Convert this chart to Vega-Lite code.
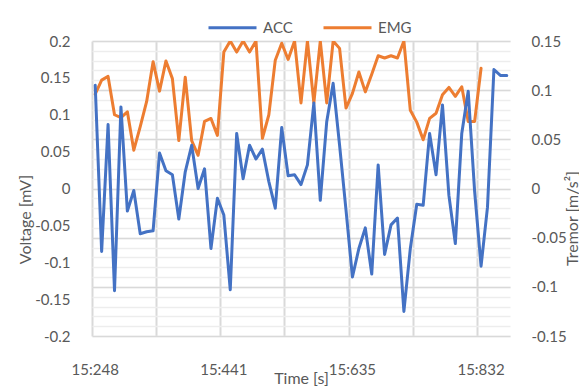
{
  "$schema": "https://vega.github.io/schema/vega-lite/v6.json",
  "width": 418,
  "height": 295,
  "autosize": {"type": "none"},
  "padding": {"left": 92, "top": 41, "right": 69, "bottom": 53},
  "background": "white",
  "config": {
    "view": {"stroke": null},
    "font": "Lato",
    "axis": {"labelColor": "#595959", "titleColor": "#595959", "labelFont": "Lato", "titleFont": "Lato", "labelFontSize": 15, "titleFontSize": 16, "titleFontWeight": "normal"},
    "legend": {"labelFont": "Lato", "labelFontSize": 15, "labelColor": "#595959", "padding": 0}
  },
  "data": {
    "values": [
      {"t": "15:248", "ACC": 0.105, "EMG": 0.128},
      {"t": "15:258", "ACC": -0.064, "EMG": 0.147},
      {"t": "15:267", "ACC": 0.065, "EMG": 0.152},
      {"t": "15:277", "ACC": -0.104, "EMG": 0.100},
      {"t": "15:287", "ACC": 0.083, "EMG": 0.096},
      {"t": "15:296", "ACC": -0.023, "EMG": 0.104},
      {"t": "15:306", "ACC": -0.002, "EMG": 0.052},
      {"t": "15:316", "ACC": -0.046, "EMG": 0.084},
      {"t": "15:325", "ACC": -0.044, "EMG": 0.118},
      {"t": "15:335", "ACC": -0.043, "EMG": 0.172},
      {"t": "15:345", "ACC": 0.036, "EMG": 0.132},
      {"t": "15:354", "ACC": 0.018, "EMG": 0.173},
      {"t": "15:364", "ACC": 0.014, "EMG": 0.149},
      {"t": "15:373", "ACC": -0.031, "EMG": 0.065},
      {"t": "15:383", "ACC": 0.017, "EMG": 0.151},
      {"t": "15:393", "ACC": 0.044, "EMG": 0.065},
      {"t": "15:402", "ACC": 0.000, "EMG": 0.045},
      {"t": "15:412", "ACC": 0.020, "EMG": 0.091},
      {"t": "15:422", "ACC": -0.061, "EMG": 0.095},
      {"t": "15:431", "ACC": -0.010, "EMG": 0.072},
      {"t": "15:441", "ACC": -0.027, "EMG": 0.185},
      {"t": "15:451", "ACC": -0.103, "EMG": 0.2},
      {"t": "15:460", "ACC": 0.056, "EMG": 0.185},
      {"t": "15:470", "ACC": 0.010, "EMG": 0.2},
      {"t": "15:480", "ACC": 0.044, "EMG": 0.185},
      {"t": "15:490", "ACC": 0.030, "EMG": 0.2},
      {"t": "15:499", "ACC": 0.040, "EMG": 0.068},
      {"t": "15:509", "ACC": 0.007, "EMG": 0.100},
      {"t": "15:519", "ACC": -0.020, "EMG": 0.174},
      {"t": "15:528", "ACC": 0.062, "EMG": 0.197},
      {"t": "15:538", "ACC": 0.013, "EMG": 0.175},
      {"t": "15:548", "ACC": 0.014, "EMG": 0.2},
      {"t": "15:557", "ACC": 0.004, "EMG": 0.116},
      {"t": "15:567", "ACC": 0.024, "EMG": 0.2},
      {"t": "15:577", "ACC": 0.087, "EMG": 0.116},
      {"t": "15:587", "ACC": -0.012, "EMG": 0.2},
      {"t": "15:596", "ACC": 0.068, "EMG": 0.116},
      {"t": "15:606", "ACC": 0.107, "EMG": 0.2},
      {"t": "15:616", "ACC": 0.044, "EMG": 0.190},
      {"t": "15:625", "ACC": -0.022, "EMG": 0.109},
      {"t": "15:635", "ACC": -0.090, "EMG": 0.129},
      {"t": "15:645", "ACC": -0.061, "EMG": 0.158},
      {"t": "15:655", "ACC": -0.040, "EMG": 0.131},
      {"t": "15:665", "ACC": -0.087, "EMG": 0.155},
      {"t": "15:674", "ACC": 0.024, "EMG": 0.180},
      {"t": "15:684", "ACC": -0.067, "EMG": 0.177},
      {"t": "15:694", "ACC": -0.037, "EMG": 0.180},
      {"t": "15:704", "ACC": -0.030, "EMG": 0.177},
      {"t": "15:714", "ACC": -0.125, "EMG": 0.2},
      {"t": "15:724", "ACC": -0.061, "EMG": 0.106},
      {"t": "15:734", "ACC": -0.016, "EMG": 0.090},
      {"t": "15:743", "ACC": -0.017, "EMG": 0.066},
      {"t": "15:753", "ACC": 0.056, "EMG": 0.095},
      {"t": "15:763", "ACC": 0.014, "EMG": 0.102},
      {"t": "15:773", "ACC": 0.085, "EMG": 0.127},
      {"t": "15:783", "ACC": -0.007, "EMG": 0.137},
      {"t": "15:793", "ACC": -0.056, "EMG": 0.125},
      {"t": "15:802", "ACC": 0.056, "EMG": 0.138},
      {"t": "15:812", "ACC": 0.099, "EMG": 0.091},
      {"t": "15:822", "ACC": -0.003, "EMG": 0.091},
      {"t": "15:832", "ACC": -0.079, "EMG": 0.163},
      {"t": "15:842", "ACC": -0.019, "EMG": null},
      {"t": "15:852", "ACC": 0.121, "EMG": null},
      {"t": "15:862", "ACC": 0.115, "EMG": null},
      {"t": "15:871", "ACC": 0.115, "EMG": null}
    ]
  },
  "layer": [
    {
      "mark": {"type": "line", "opacity": 0},
      "encoding": {
        "x": {"field": "t", "type": "ordinal", "sort": null, "bandPosition": 0.5, "scale": {"type": "band", "paddingInner": 0, "paddingOuter": 0}, "axis": null},
        "y": {
          "field": "ACC", "type": "quantitative",
          "scale": {"domain": [-0.15, 0.15], "nice": false, "zero": false},
          "axis": {"orient": "right", "values": [-0.15, -0.14, -0.13, -0.12, -0.11, -0.1, -0.09, -0.08, -0.07, -0.06, -0.05, -0.04, -0.03, -0.02, -0.01, 0, 0.01, 0.02, 0.03, 0.04, 0.05, 0.06, 0.07, 0.08, 0.09, 0.1, 0.11, 0.12, 0.13, 0.14, 0.15], "grid": true, "gridColor": "#EDEDED", "gridWidth": 1.3, "labels": false, "ticks": false, "domain": false, "title": null}
        }
      }
    },
    {
      "mark": {"type": "line", "strokeWidth": 3, "strokeJoin": "round", "strokeCap": "round", "clip": true},
      "encoding": {
        "x": {"field": "t", "type": "ordinal", "sort": null, "bandPosition": 0.5, "scale": {"type": "band", "paddingInner": 0, "paddingOuter": 0},
          "axis": {"orient": "bottom", "values": ["15:248", "15:441", "15:635", "15:832"], "bandPosition": 0.5, "grid": false, "ticks": false, "domain": false, "labelAngle": 0, "labelPadding": 26, "title": "Time [s]", "titleY": 47, "titleBaseline": "alphabetic"}},
        "y": {
          "field": "EMG", "type": "quantitative",
          "scale": {"domain": [-0.2, 0.2], "nice": false, "zero": false},
          "axis": {"orient": "left", "values": [-0.2, -0.15, -0.1, -0.05, 0, 0.05, 0.1, 0.15, 0.2], "labelExpr": "'' + datum.value", "grid": false, "ticks": false, "domain": false, "labelPadding": 22, "title": "Voltage [mV]", "titleAngle": 270, "titleX": -62, "titleY": 178, "titleBaseline": "alphabetic"}
        },
        "color": {"datum": "EMG", "type": "nominal", "scale": {"domain": ["ACC", "EMG"], "range": ["#4472C4", "#ED7D31"]},
          "legend": {"orient": "none", "legendX": 115, "legendY": -39, "direction": "horizontal", "title": null, "symbolType": "stroke", "symbolSize": 2304, "symbolStrokeWidth": 3, "labelOffset": 5, "columnPadding": 24}}
      }
    },
    {
      "mark": {"type": "line", "strokeWidth": 3, "strokeJoin": "round", "strokeCap": "round", "clip": true},
      "encoding": {
        "x": {"field": "t", "type": "ordinal", "sort": null, "bandPosition": 0.5, "scale": {"type": "band", "paddingInner": 0, "paddingOuter": 0},
          "axis": {"orient": "top", "values": ["15:248", "15:345", "15:441", "15:538", "15:635", "15:734", "15:832"], "bandPosition": 0, "grid": true, "gridColor": "#D9D9D9", "gridWidth": 2, "labels": false, "ticks": false, "domain": false, "title": null}},
        "y": {
          "field": "ACC", "type": "quantitative",
          "scale": {"domain": [-0.15, 0.15], "nice": false, "zero": false},
          "axis": {"orient": "right", "values": [-0.15, -0.1, -0.05, 0, 0.05, 0.1, 0.15], "labelExpr": "'' + datum.value", "grid": true, "gridColor": "#D9D9D9", "gridWidth": 1.6, "ticks": false, "domain": false, "labelPadding": 21, "title": "Tremor [m/s²]", "titleAngle": 270, "titleX": 67, "titleY": 177, "titleBaseline": "alphabetic"}
        },
        "color": {"datum": "ACC", "type": "nominal"}
      }
    }
  ],
  "resolve": {"scale": {"y": "independent"}, "axis": {"x": "independent", "y": "independent"}}
}
